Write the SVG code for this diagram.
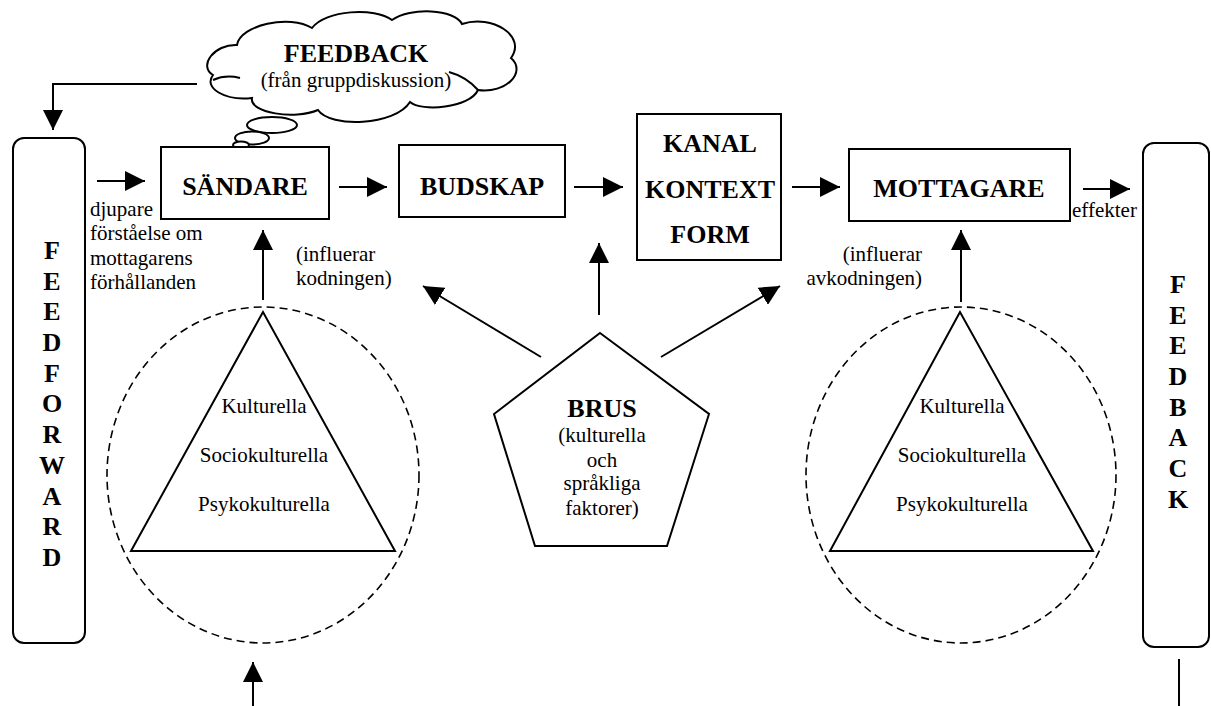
<svg xmlns="http://www.w3.org/2000/svg" width="1211" height="706" viewBox="0 0 1211 706">
  <style>
    .box { fill: #fff; stroke: #000; stroke-width: 2; }
    .shape { fill: none; stroke: #000; stroke-width: 2; }
    .dash { fill: none; stroke: #000; stroke-width: 1.6; stroke-dasharray: 8 5; }
    .line { fill: none; stroke: #000; stroke-width: 2; }
    .arrow { marker-end: url(#head); }
    text { font-family: "Liberation Serif", "Times New Roman", serif; fill: #000; }
    .title { font-size: 26px; font-weight: bold; text-anchor: middle; }
    .label { font-size: 21px; }
    .mid { text-anchor: middle; }
    .end { text-anchor: end; }
    .vert { font-size: 26px; font-weight: bold; text-anchor: middle; }
  </style>
  <defs>
    <marker id="head" markerUnits="userSpaceOnUse" markerWidth="20" markerHeight="20" refX="20" refY="10" orient="auto">
      <path d="M0,0 L20,10 L0,20 Z" fill="#000"/>
    </marker>
  </defs>

  <rect width="1211" height="706" fill="#fff"/>

  <!-- connectors -->
  <g id="connectors">
    <polyline class="line arrow" points="197,84 53,84 53,130"/>
    <line class="line arrow" x1="97" y1="181" x2="145" y2="181"/>
    <line class="line arrow" x1="339" y1="187" x2="387" y2="187"/>
    <line class="line arrow" x1="574" y1="187" x2="623" y2="187"/>
    <line class="line arrow" x1="792" y1="187" x2="840" y2="187"/>
    <line class="line arrow" x1="1083" y1="189" x2="1130" y2="189"/>
    <line class="line arrow" x1="263" y1="300" x2="263" y2="230"/>
    <line class="line arrow" x1="961" y1="302" x2="961" y2="230"/>
    <line class="line arrow" x1="599" y1="315" x2="599" y2="243"/>
    <line class="line arrow" x1="541" y1="357" x2="423" y2="286"/>
    <line class="line arrow" x1="661" y1="357" x2="780" y2="286"/>
    <line class="line arrow" x1="253" y1="706" x2="253" y2="662"/>
    <line class="line" x1="1179" y1="659" x2="1179" y2="706"/>
  </g>

  <!-- feedback cloud with thought bubbles -->
  <g id="feedback-cloud">
    <path class="box" d="M213,75 C198,66 214,44 237,45 C240,25 290,14 312,28 C325,10 375,7 392,20 C410,7 455,9 462,24 C492,14 527,36 511,58 C527,72 506,94 478,90 C470,108 421,112 410,102 C395,126 330,128 318,110 C295,120 249,113 252,98 C225,101 203,88 213,75 Z"/>
    <path class="shape" d="M213,80 C222,76 232,76 240,78"/>
    <path class="shape" d="M449,72 C460,75 470,81 478,90"/>
    <ellipse class="box" cx="272" cy="125" rx="25" ry="8"/>
    <ellipse class="box" cx="252" cy="138" rx="17" ry="6.5"/>
    <ellipse class="box" cx="241" cy="145" rx="8" ry="3.5"/>
    <text class="title" x="356" y="62">FEEDBACK</text>
    <text class="label mid" x="356" y="87">(från gruppdiskussion)</text>
  </g>

  <!-- feedforward column -->
  <g id="feedforward">
    <rect class="box" x="13" y="138" width="72" height="505" rx="11"/>
    <text class="vert" x="52" y="259">F</text>
    <text class="vert" x="52" y="290">E</text>
    <text class="vert" x="52" y="320">E</text>
    <text class="vert" x="52" y="351">D</text>
    <text class="vert" x="52" y="382">F</text>
    <text class="vert" x="52" y="412">O</text>
    <text class="vert" x="52" y="443">R</text>
    <text class="vert" x="52" y="474">W</text>
    <text class="vert" x="52" y="505">A</text>
    <text class="vert" x="52" y="535">R</text>
    <text class="vert" x="52" y="566">D</text>
  </g>

  <g id="feedforward-note">
    <text class="label" x="90" y="216">djupare</text>
    <text class="label" x="90" y="240">förståelse om</text>
    <text class="label" x="90" y="265">mottagarens</text>
    <text class="label" x="90" y="289">förhållanden</text>
  </g>

  <!-- main chain -->
  <g id="sandare">
    <rect class="box" x="161" y="147" width="168" height="72"/>
    <text class="title" x="245" y="195">SÄNDARE</text>
  </g>
  <g id="budskap">
    <rect class="box" x="399" y="145" width="166" height="72"/>
    <text class="title" x="482" y="195">BUDSKAP</text>
  </g>
  <g id="kanal">
    <rect class="box" x="637" y="114" width="144" height="146"/>
    <text class="title" x="710" y="152">KANAL</text>
    <text class="title" x="710" y="198">KONTEXT</text>
    <text class="title" x="710" y="243">FORM</text>
  </g>
  <g id="mottagare">
    <rect class="box" x="849" y="149" width="221" height="72"/>
    <text class="title" x="959" y="197">MOTTAGARE</text>
  </g>
  <g id="effekter">
    <text class="label" x="1072" y="217">effekter</text>
  </g>

  <!-- feedback column -->
  <g id="feedback">
    <rect class="box" x="1143" y="143" width="66" height="504" rx="11"/>
    <text class="vert" x="1178" y="293">F</text>
    <text class="vert" x="1178" y="324">E</text>
    <text class="vert" x="1178" y="354">E</text>
    <text class="vert" x="1178" y="385">D</text>
    <text class="vert" x="1178" y="416">B</text>
    <text class="vert" x="1178" y="446">A</text>
    <text class="vert" x="1178" y="477">C</text>
    <text class="vert" x="1178" y="508">K</text>
  </g>

  <!-- influence notes -->
  <g id="note-kodning">
    <text class="label" x="296" y="261">(influerar</text>
    <text class="label" x="296" y="285">kodningen)</text>
  </g>
  <g id="note-avkodning">
    <text class="label end" x="922" y="261">(influerar</text>
    <text class="label end" x="922" y="285">avkodningen)</text>
  </g>

  <!-- sender culture -->
  <g id="sender-culture">
    <ellipse class="dash" cx="263" cy="475" rx="156" ry="168"/>
    <polygon class="shape" points="263,312 131,551 395,551"/>
    <text class="label mid" x="264" y="413">Kulturella</text>
    <text class="label mid" x="264" y="462">Sociokulturella</text>
    <text class="label mid" x="264" y="511">Psykokulturella</text>
  </g>

  <!-- noise -->
  <g id="brus">
    <polygon class="shape" points="600,333 709,414 667,546 535,546 494,414"/>
    <text class="title" x="602" y="417">BRUS</text>
    <text class="label mid" x="602" y="442">(kulturella</text>
    <text class="label mid" x="602" y="467">och</text>
    <text class="label mid" x="602" y="490">språkliga</text>
    <text class="label mid" x="602" y="515">faktorer)</text>
  </g>

  <!-- receiver culture -->
  <g id="receiver-culture">
    <ellipse class="dash" cx="961" cy="475" rx="155" ry="168"/>
    <polygon class="shape" points="960,312 830,551 1093,551"/>
    <text class="label mid" x="962" y="413">Kulturella</text>
    <text class="label mid" x="962" y="462">Sociokulturella</text>
    <text class="label mid" x="962" y="511">Psykokulturella</text>
  </g>
</svg>
